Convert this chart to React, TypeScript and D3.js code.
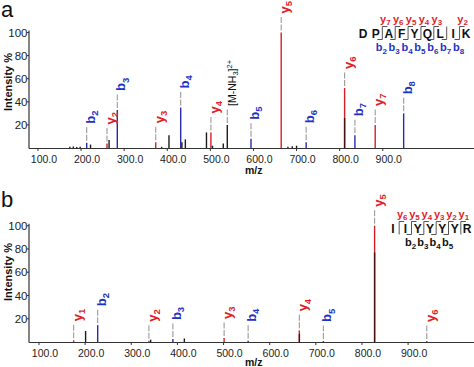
import * as d3 from "d3";
import React from "react";

const FONT = "Arial, 'Liberation Sans', Helvetica, sans-serif";
const RED = "#d41f27";
const BLUE = "#2a2aa8";
const BLACK = "#1c1c1c";
const DARK = "#4a1010";
const LABEL_RED = "#e01f2a";
const LABEL_BLUE = "#1d33c4";

// ---- panel a : DPAFYQLIK ----
const MZ_A = [174, 182, 190, 198, 213.1, 222, 260.2, 265, 284.1, 373.3, 387, 404, 431.2, 434, 442, 491, 501.3, 505, 530, 539.3, 594.3, 664.4, 680, 690, 700, 722.3, 811.5, 811.5, 835.4, 882.5, 948.5];
const INT_A = [1, 1.2, 0.8, 1, 4.5, 3, 4, 7, 33, 5, 1, 11, 35, 5, 7.5, 13.5, 13.5, 2, 4, 20, 8, 100, 1, 1.5, 2, 5, 52, 26, 11, 20, 30];
const TYPE_A = ["n", "n", "n", "n", "b", "n", "y", "n", "b", "y", "n", "n", "b", "n", "n", "n", "y", "n", "n", "m", "b", "y", "n", "n", "n", "b", "y", "d", "b", "y", "b"];
const LABEL_A = ["", "", "", "", "b2", "", "y2", "", "b3", "y3", "", "", "b4", "", "", "", "y4", "", "", "M", "b5", "y5", "", "", "", "b6", "y6", "", "b7", "y7", "b8"];
const SEQ_A = ["D", "P", "A", "F", "Y", "Q", "L", "I", "K"];
const CUT_B_A = ["", "b2", "b3", "b4", "b5", "b6", "b7", "b8"];
const CUT_Y_A = ["", "y7", "y6", "y5", "y4", "y3", "", "y2"];

// ---- panel b : IIYYYYR ----
const MZ_B = [175.1, 201, 227.2, 338.2, 342, 390.2, 415, 501.2, 553.3, 664.3, 664.3, 716.4, 827.4, 827.4, 940.5];
const INT_B = [1.5, 9.5, 14.5, 1, 2, 2.5, 3, 3.5, 1, 10, 7, 0.8, 100, 77, 0.8];
const TYPE_B = ["y", "n", "b", "y", "n", "b", "n", "y", "b", "y", "d", "b", "y", "d", "y"];
const LABEL_B = ["y1", "", "b2", "y2", "", "b3", "", "y3", "b4", "y4", "", "b5", "y5", "", "y6"];
const SEQ_B = ["I", "I", "Y", "Y", "Y", "Y", "R"];
const CUT_B_B = ["", "b2", "b3", "b4", "b5", ""];
const CUT_Y_B = ["y6", "y5", "y4", "y3", "y2", "y1"];

const X_TICKS = [100, 200, 300, 400, 500, 600, 700, 800, 900];
const Y_TICKS = [20, 40, 60, 80, 100];

const peakColor: Record<string, string> = { n: BLACK, m: BLACK, b: BLUE, y: RED, d: DARK };

function Ion({ ion, size, sub }: { ion: string; size: number; sub: number }) {
  return (
    <>
      {ion[0]}
      <tspan dy={size * 0.25} fontSize={sub}>{ion.slice(1)}</tspan>
    </>
  );
}

interface PanelProps {
  tag: string;
  tagY: number;
  mz: number[];
  ints: number[];
  types: string[];
  labels: string[];
  seq: string[];
  cutB: string[];
  cutY: string[];
  bColor: string;
  yTop: number;
  yBase: number;
  xRange: [number, number];
  tickY: number;
  mzY: number;
  titleY: number;
  seqX: [number, number];
  seqBase: number;
}

function Panel(p: PanelProps) {
  const x = d3.scaleLinear().domain([100, 900]).range(p.xRange);
  const y = d3.scaleLinear().domain([0, 100]).range([p.yBase, p.yTop]);
  const axisX = 29;
  const idx = d3.range(p.mz.length);
  // overlapping darker peaks go on top
  const order = idx.slice().sort((a, b) => (p.types[a] === "d" ? 1 : 0) - (p.types[b] === "d" ? 1 : 0));
  const sx = d3.scaleLinear().domain([0, p.seq.length - 1]).range(p.seqX);
  const cuts = d3.range(p.seq.length - 1);

  return (
    <g fontFamily={FONT}>
      <text x={1} y={p.tagY} fontSize={22} fill="#111">{p.tag}</text>
      <text transform={`translate(12,${p.titleY}) rotate(-90)`} textAnchor="middle" fontSize={11} fontWeight="bold" fill="#111">
        Intensity %
      </text>

      {/* peaks */}
      {order.map((i) => (
        <line key={i} x1={x(p.mz[i])} x2={x(p.mz[i])} y1={y(0)} y2={y(p.ints[i])}
          stroke={peakColor[p.types[i]]} strokeWidth={1.4} />
      ))}

      {/* peak annotations */}
      {idx.filter((i) => p.labels[i]).map((i) => {
        const px = x(p.mz[i]);
        const top = y(p.ints[i]);
        const lab = p.labels[i];
        const col = lab[0] === "b" ? LABEL_BLUE : lab[0] === "y" ? LABEL_RED : "#111";
        return (
          <g key={"l" + i}>
            <line x1={px} x2={px} y1={top - 2} y2={top - 16} stroke="#9a9a9a" strokeWidth={1.1} strokeDasharray="6,1.5" />
            {lab === "M" ? (
              <text transform={`translate(${px + 8.5},${top - 19}) rotate(-90)`} fontSize={10.5} fill="#111">
                [M-NH<tspan dy={2.5} fontSize={7.5}>3</tspan>
                <tspan dy={-2.5} fontSize={10.5}>]</tspan>
                <tspan dy={-4} fontSize={7.5}>2+</tspan>
              </text>
            ) : (
              <text transform={`translate(${px + 8},${top - 19}) rotate(-90)`} fontSize={13} fontWeight="bold" fill={col}>
                <Ion ion={lab} size={13} sub={9.5} />
              </text>
            )}
          </g>
        );
      })}

      {/* axes */}
      <line x1={axisX} x2={axisX} y1={p.yTop - 2} y2={p.yBase + 0.5} stroke="#333" strokeWidth={1.2} />
      <line x1={axisX} x2={474} y1={p.yBase + 0.5} y2={p.yBase + 0.5} stroke="#333" strokeWidth={1.2} />
      {Y_TICKS.map((t) => (
        <g key={"yt" + t}>
          <line x1={axisX - 2} x2={axisX} y1={y(t)} y2={y(t)} stroke="#333" />
          <text x={axisX - 1.5} y={y(t)} dy="0.36em" textAnchor="end" fontSize={11.5} fill="#222">{t}</text>
        </g>
      ))}
      {X_TICKS.map((t) => (
        <g key={"xt" + t}>
          <line x1={x(t)} x2={x(t)} y1={p.yBase + 0.5} y2={p.yBase + 3} stroke="#333" />
          <text x={x(t) + 6} y={p.tickY} textAnchor="middle" fontSize={10.5} fill="#222">{t.toFixed(1)}</text>
        </g>
      ))}
      <text x={245} y={p.mzY} fontSize={10.5} fontWeight="bold" fill="#111">m/z</text>

      {/* sequence scheme */}
      {p.seq.map((s, i) => (
        <text key={"s" + i} x={sx(i)} y={p.seqBase} textAnchor="middle" fontSize={12} fontWeight="bold" fill="#111">{s}</text>
      ))}
      {cuts.map((i) => {
        const cx = (sx(i) + sx(i + 1)) / 2;
        const t = p.seqBase - 11;
        const b = p.seqBase + 2;
        if (!p.cutB[i] && !p.cutY[i]) return null;
        return (
          <g key={"c" + i}>
            <line x1={cx} x2={cx} y1={t} y2={b} stroke="#555" strokeWidth={1} />
            {p.cutY[i] && <line x1={cx} x2={cx + 5} y1={t} y2={t} stroke="#555" strokeWidth={1} />}
            {p.cutB[i] && <line x1={cx - 5} x2={cx} y1={b} y2={b} stroke="#555" strokeWidth={1} />}
            {p.cutY[i] && (
              <text x={cx + 3} y={p.seqBase - 15} textAnchor="middle" fontSize={11} fontWeight="bold" fill={LABEL_RED}>
                <Ion ion={p.cutY[i]} size={11} sub={8} />
              </text>
            )}
            {p.cutB[i] && (
              <text x={cx - 1} y={p.seqBase + 13.5} textAnchor="middle" fontSize={11} fontWeight="bold" fill={p.bColor}>
                <Ion ion={p.cutB[i]} size={11} sub={8} />
              </text>
            )}
          </g>
        );
      })}
    </g>
  );
}

export default function App() {
  return (
    <svg width={474} height={367} style={{ position: "absolute", left: 0, top: 0, background: "#fff" }}>
      <rect width={474} height={367} fill="#fff" />
      <Panel tag="a" tagY={17} mz={MZ_A} ints={INT_A} types={TYPE_A} labels={LABEL_A}
        seq={SEQ_A} cutB={CUT_B_A} cutY={CUT_Y_A} bColor={LABEL_BLUE}
        yTop={32.5} yBase={148} xRange={[37.95, 382.75]} tickY={162.5} mzY={174} titleY={82}
        seqX={[363, 466]} seqBase={37.5} />
      <Panel tag="b" tagY={207} mz={MZ_B} ints={INT_B} types={TYPE_B} labels={LABEL_B}
        seq={SEQ_B} cutB={CUT_B_B} cutY={CUT_Y_B} bColor="#111"
        yTop={225.7} yBase={342} xRange={[39, 408.1]} tickY={357} mzY={365.5} titleY={272}
        seqX={[393, 467]} seqBase={232.5} />
    </svg>
  );
}
